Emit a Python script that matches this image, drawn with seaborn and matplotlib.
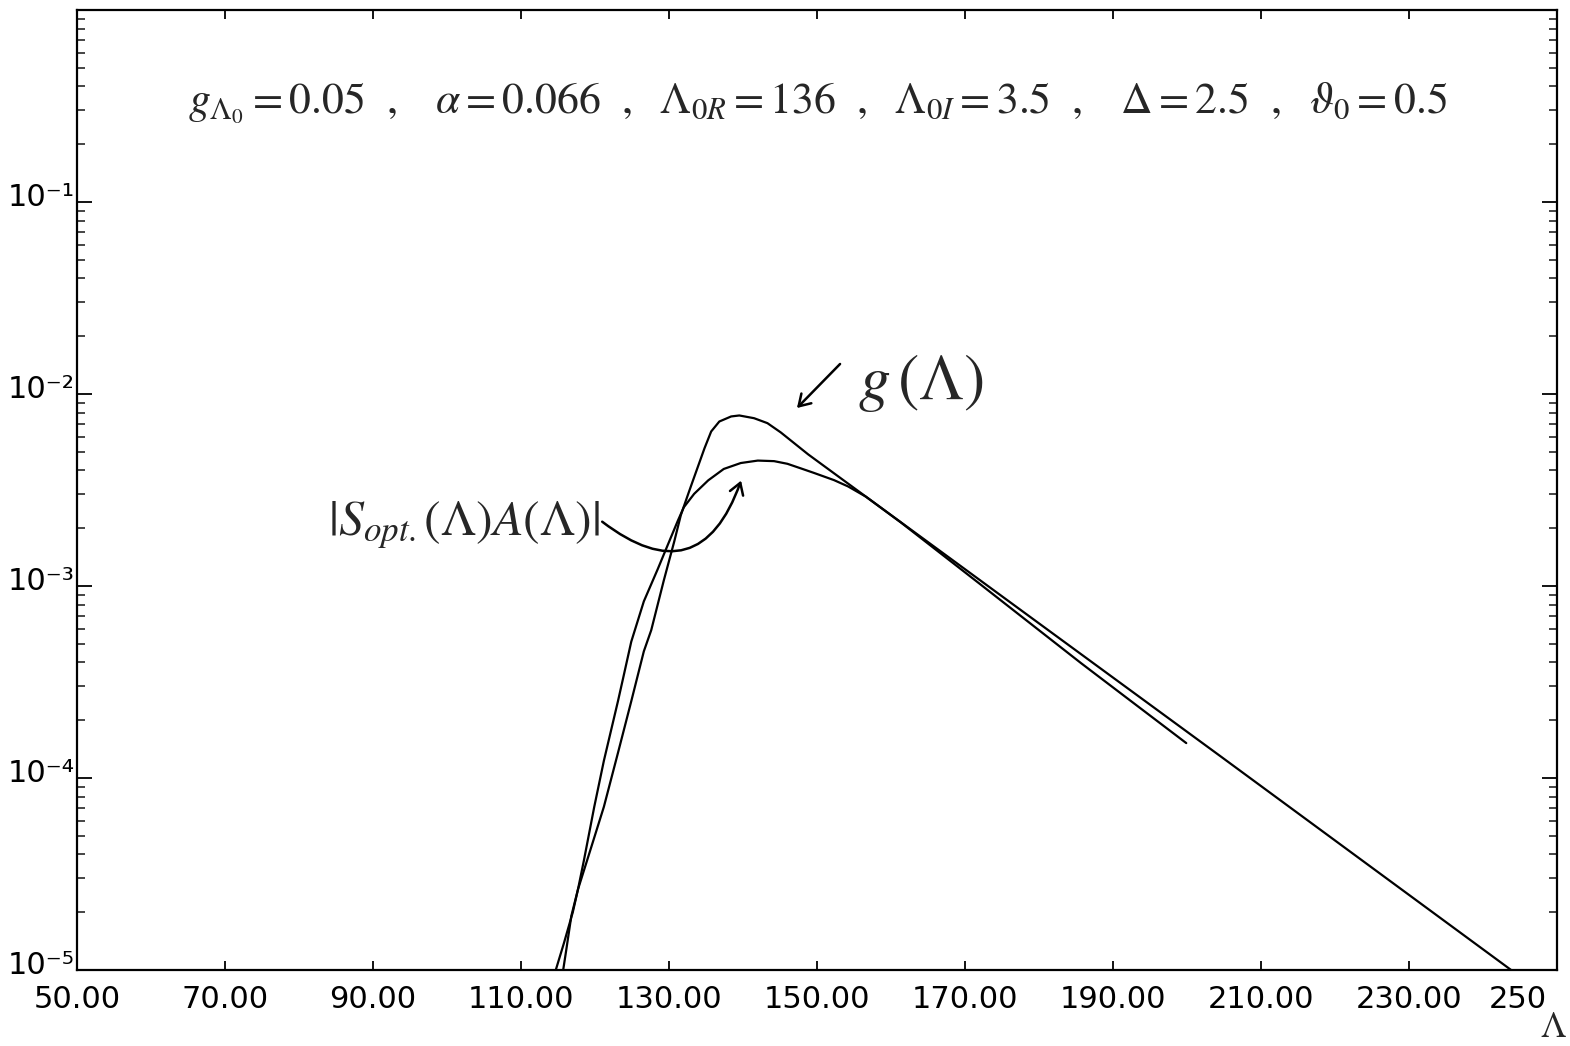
import numpy as np
import pandas as pd
import matplotlib
matplotlib.use("Agg")
import matplotlib.pyplot as plt
from matplotlib.ticker import FixedLocator, LogLocator, NullFormatter, FixedFormatter
from matplotlib.patches import FancyArrowPatch
from matplotlib.transforms import ScaledTranslation
import seaborn as sns

# ---------------- data ----------------
g_lambda = [114.7, 115.8, 117.0, 117.7, 119.5, 121.2, 123.1, 124.9, 126.6, 127.6,
            129.3, 130.7, 131.6, 132.6, 133.2, 134.8, 135.7, 136.8, 138.4, 139.5,
            141.5, 143.3, 145.1, 148.8, 204.5, 243.8]
g_values = [1.0e-5, 1.38e-5, 2.0e-5, 2.63e-5, 4.37e-5, 7.08e-5, 1.35e-4, 2.51e-4, 4.57e-4, 5.89e-4,
            1.07e-3, 1.70e-3, 2.34e-3, 3.02e-3, 3.51e-3, 5.22e-3, 6.38e-3, 7.19e-3, 7.64e-3, 7.73e-3,
            7.48e-3, 7.05e-3, 6.31e-3, 4.85e-3, 1.30e-4, 1.0e-5]

s_lambda = [115.7, 116.1, 116.8, 117.7, 118.5, 119.9, 121.2, 123.1, 123.8, 124.9,
            126.6, 128.5, 129.9, 131.2, 132.0, 133.4, 135.3, 137.4, 139.7, 142.0,
            144.2, 146.0, 147.8, 149.6, 152.3, 154.2, 156.6, 161.35, 171.8, 185.7, 199.9]
s_values = [1.0e-5, 1.26e-5, 1.91e-5, 2.63e-5, 3.72e-5, 7.08e-5, 1.23e-4, 2.51e-4, 3.31e-4, 5.13e-4,
            8.32e-4, 1.23e-3, 1.66e-3, 2.19e-3, 2.57e-3, 3.02e-3, 3.55e-3, 4.07e-3, 4.37e-3, 4.50e-3,
            4.47e-3, 4.33e-3, 4.10e-3, 3.88e-3, 3.56e-3, 3.30e-3, 2.92e-3, 2.14e-3, 1.04e-3, 3.96e-4, 1.52e-4]

x_ticks = [50, 70, 90, 110, 130, 150, 170, 190, 210, 230, 250]
x_tick_labels = ["50.00", "70.00", "90.00", "110.00", "130.00", "150.00",
                 "170.00", "190.00", "210.00", "230.00", "250"]
y_ticks = [1e-5, 1e-4, 1e-3, 1e-2, 1e-1]
y_tick_labels = ["10\u207b\u2075", "10\u207b\u2074", "10\u207b\u00b3", "10\u207b\u00b2", "10\u207b\u00b9"]

params_text = (r"$g_{\Lambda_0} = 0.05\ \ ,\ \ \ \alpha = 0.066\ \ ,\ \ \Lambda_{0R} = 136\ \ ,\ \ "
               r"\Lambda_{0I} = 3.5\ \ ,\ \ \ \Delta = 2.5\ \ ,\ \ \vartheta_0 = 0.5$")
g_label = r"$g\,(\Lambda)$"
s_label = r"$|S_{opt.}(\Lambda)A(\Lambda)|$"
x_axis_label = r"$\Lambda$"

# ---------------- figure ----------------
sns.set_style("ticks")
plt.rcParams["font.family"] = ["DejaVu Sans"]
plt.rcParams["mathtext.fontset"] = "stix"

W, H = 1570, 1046
fig = plt.figure(figsize=(W / 100, H / 100), dpi=100)
fig.patch.set_facecolor("white")
ax = fig.add_axes([77 / W, 1 - 970 / H, (1557 - 77) / W, (970 - 10) / H])

df_g = pd.DataFrame({"Lambda": g_lambda, "value": g_values})
df_s = pd.DataFrame({"Lambda": s_lambda, "value": s_values})
sns.lineplot(data=df_g, x="Lambda", y="value", color="black", lw=1.6, ax=ax)
sns.lineplot(data=df_s, x="Lambda", y="value", color="black", lw=1.6, ax=ax)

ax.set_yscale("log")
ax.set_xlim(50, 250)
ax.set_ylim(1e-5, 1)
ax.set_xlabel("")
ax.set_ylabel("")

ax.xaxis.set_major_locator(FixedLocator(x_ticks))
ax.xaxis.set_major_formatter(FixedFormatter(x_tick_labels))
ax.yaxis.set_major_locator(FixedLocator(y_ticks))
ax.yaxis.set_major_formatter(FixedFormatter(y_tick_labels))
ax.yaxis.set_minor_locator(LogLocator(base=10, subs=np.arange(2, 10), numticks=20))
ax.yaxis.set_minor_formatter(NullFormatter())

for sp in ax.spines.values():
    sp.set_linewidth(1.6)
    sp.set_color("black")

ax.tick_params(axis="x", which="major", direction="in", length=6.5, width=1.3,
               top=True, bottom=True, labelsize=22, pad=11, colors="black")
ax.tick_params(axis="y", which="major", direction="in", length=11, width=1.3,
               left=True, right=True, labelsize=22, pad=2, colors="black")
ax.tick_params(axis="y", which="minor", direction="in", length=6, width=1.2,
               left=True, right=True)

fig.canvas.draw()
for lab in ax.get_yticklabels():
    lab.set_verticalalignment("baseline")
    lab.set_transform(lab.get_transform() + ScaledTranslation(0, -4 / 100, fig.dpi_scale_trans))
xlabs = ax.get_xticklabels()
xlabs[-1].set_horizontalalignment("right")
xlabs[-1].set_transform(xlabs[-1].get_transform() + ScaledTranslation(-10 / 100, 0, fig.dpi_scale_trans))

# ---------------- annotations ----------------
def fx(px):
    return px / W

def fy(py):
    return 1 - py / H

fig.text(fx(188), fy(103), params_text, fontsize=31.5, ha="left", va="center")
fig.text(fx(858), fy(383), g_label, fontsize=46, ha="left", va="center")
fig.text(fx(328), fy(525), s_label, fontsize=36, ha="left", va="center")

arr1 = FancyArrowPatch((fx(842), fy(362)), (fx(795), fy(410)), transform=fig.transFigure,
                       arrowstyle="->,head_length=8,head_width=5", lw=1.8, color="black",
                       mutation_scale=1)
fig.patches.append(arr1)
arr2 = FancyArrowPatch((fx(600), fy(520)), (fx(742), fy(478)), transform=fig.transFigure,
                       connectionstyle="arc3,rad=0.7",
                       arrowstyle="->,head_length=8,head_width=5", lw=1.8, color="black",
                       mutation_scale=1)
fig.patches.append(arr2)

fig.text(fx(1553), fy(1044), x_axis_label, fontsize=26, ha="center", va="bottom")

fig.savefig("out.png", dpi=100, facecolor="white")
